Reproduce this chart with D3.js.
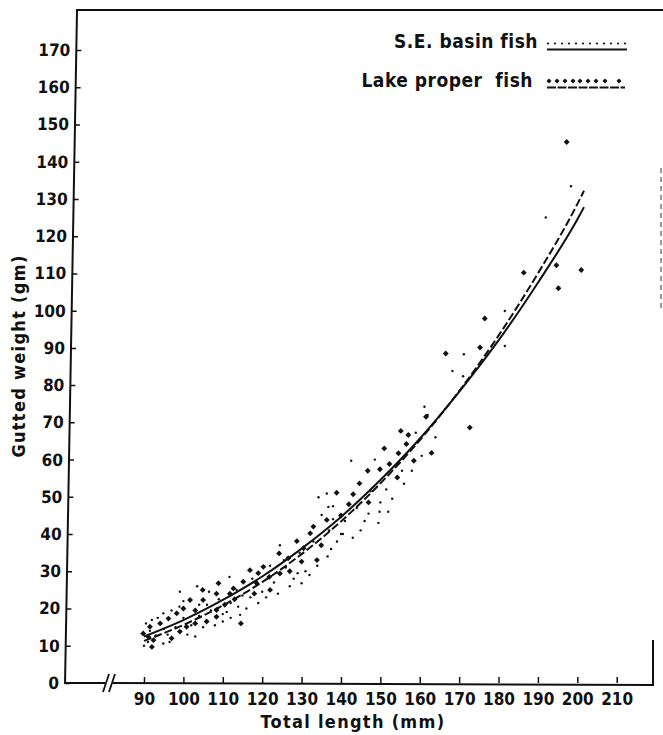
<!DOCTYPE html>
<html>
<head>
<meta charset="utf-8">
<script src="https://cdn.jsdelivr.net/npm/d3@7"></script>
<style>
  body { margin: 0; background: #fff; }
  svg { display: block; }
  text { font-family: "DejaVu Sans Condensed", "DejaVu Sans", sans-serif; font-weight: bold; fill: #111; }
</style>
</head>
<body>
<div id="grafico"></div>
<script>
// ticks
const xTicks = [90, 100, 110, 120, 130, 140, 150, 160, 170, 180, 190, 200, 210];
const yTicks = [0, 10, 20, 30, 40, 50, 60, 70, 80, 90, 100, 110, 120, 130, 140, 150, 160, 170];

// S.E. basin fish (small dots) [length mm, weight gm]
const seBasin = [
  [198.4,133.4],[192,125],[181.6,99.9],[181.6,90.5],[171.2,88.3],[168.3,83.8],[171,82.4],
  [161.2,74.2],[159,67.2],[160.5,61],[142.6,59.7],[148.6,60],[136.4,50.9],[134.3,49.9],
  [136.8,47.3],[135.1,45.1],[124.5,37],[130,26.8],[111.7,28.5],[111,19.1],[113.9,20.5],
  [114.4,18.3],[99.1,24.5],[94.9,18.7],[92,16.9],[94.9,10.6],
  [149.5,43],[149.8,46],[150,48.5],[147,45.5],[145,41],[140,40],[141,43.5],[138,44],
  [139,38],[137,41],[136.6,34],[132,29],[128,28],[126,31],[123,27],[120,24.5],[117,23],
  [115,23.5],[112,21.5],[110,18.5],[107,19.5],[106,21],[104,18],[102,15.5],[100,17.5],
  [98,15],[96,13],[95,14.5],[93,12.8],[91,11],[90,10],[91.5,14],[96.5,11],[101,13],
  [103,12.5],[105,15],[108,15.5],[110,16.5],[112,17.5],[116,20],[119,21.5],[121,23],
  [124,24],[127,26],[129,29.5],[131,30],[134,31.5],[137.5,36],[140.5,40],[143,39],
  [146,43.5],[152,46],[153,49.5],[156,53.5],[158,57],[162,72],[164,66],[144,47],
  [147.5,51.5],[151.5,52],[155.5,57],[138,47.5],[133,38],[129.5,35],[125.5,33],[122,31.5],
  [117.5,28],[113.5,25],[109,22.5],[106.5,24.5],[104,21],[99,20.5],[97,19.5],[93.5,17.5],
  [90.5,16],[100,22],[103.5,26]
];

// Lake proper fish (large dots)
const lakeProper = [
  [197.3,145.3],[194.7,112.2],[201,110.9],[186.4,110.2],[195.2,106],[176.5,97.9],[175.3,90.1],
  [166.6,88.5],[172.7,68.6],[161.6,71.5],[163,61.8],[155.2,67.7],[157.1,66.6],[156.6,64.2],
  [154.6,61.7],[151,63],[158.5,59.7],[152.3,58.8],[149.9,57.4],[146.8,57],[144.7,53.6],
  [154.3,55.2],[143.1,50.7],[138.9,51.1],[136.4,43.8],[133,42],[132.2,40.2],[128.8,38.1],
  [130.5,36.2],[133.9,33],[130,32.6],[124.3,34.8],[126.6,33.5],[120.3,31.2],[116.9,30.3],
  [121.8,28.5],[124.5,29.4],[118.6,26.8],[122,25],[115.2,27.2],[112.7,25.4],[108.9,26.8],
  [111.8,24],[108.4,24],[105,22.3],[104.9,25],[101.7,22.3],[100,20],[98.3,18.7],[96.2,17.3],
  [94.1,16],[91.5,15.1],[89.8,13.3],[91.1,12.4],[92.4,11.5],[92,9.7],[97,12],[99.1,13.8],
  [100.8,15.1],[103,16],[105.9,16.5],[108.4,17.8],[114.6,16],[108.4,19.6],
  [110.5,21],[113,22.5],[118,24],[127,30],[135,37],[140,45],[142,48],[147,48.5],[119,29.5],[103,19.5]
];

// fitted curves
const curveLen = [90, 100, 110, 120, 130, 140, 150, 160, 170, 180, 190, 200, 201.7];
const seCurve = [12.5, 16.9, 22.3, 28.6, 36.1, 44.6, 54.5, 65.6, 78.2, 92, 107.5, 124.5, 127.8];
const lakeCurve = [11.3, 15.6, 20.8, 27.1, 34.6, 43.4, 53.6, 65.2, 78.4, 93.3, 110, 128.6, 132.2];

const largura = 663;
const altura = 735;

const svg = d3.select("#grafico")
  .append("svg")
  .attr("width", largura)
  .attr("height", altura);

const x = d3.scaleLinear().domain([90, 210]).range([144, 616.7]);
const y = d3.scaleLinear().domain([0, 170]).range([683, 50]);

// frame: top line and right side bits
svg.append("line").attr("x1", 77).attr("y1", 10).attr("x2", 663).attr("y2", 10)
  .attr("stroke", "#111").attr("stroke-width", 2);
svg.append("line").attr("x1", 653).attr("y1", 685).attr("x2", 653).attr("y2", 640)
  .attr("stroke", "#111").attr("stroke-width", 2);
svg.append("line").attr("x1", 661).attr("y1", 168).attr("x2", 661).attr("y2", 310)
  .attr("stroke", "#555").attr("stroke-width", 1.2).attr("stroke-dasharray", "5,4");

// y axis (slightly slanted like the scan)
const gy = svg.append("g")
  .attr("transform", "translate(77.2,0) skewX(-1.02)");
gy.call(d3.axisLeft(y).tickValues(yTicks).tickSize(-5).tickPadding(6))
  .call(g => g.select(".domain").remove());
gy.selectAll(".tick line").attr("stroke", "#111").attr("stroke-width", 1.5);
gy.selectAll(".tick text").style("font-size", "17px").attr("fill", "#111");
gy.append("line").attr("x1", 0).attr("y1", 9).attr("x2", 0).attr("y2", 684)
  .attr("stroke", "#111").attr("stroke-width", 2);

// x axis with break
const gx = svg.append("g").attr("transform", "translate(0,683)");
gx.call(d3.axisBottom(x).tickValues(xTicks).tickSize(-6).tickPadding(10))
  .call(g => g.select(".domain").remove());
gx.selectAll(".tick line").attr("stroke", "#111").attr("stroke-width", 1.5);
gx.selectAll(".tick text").style("font-size", "17px").attr("fill", "#111");
svg.append("line").attr("x1", 64).attr("y1", 683).attr("x2", 105).attr("y2", 683)
  .attr("stroke", "#111").attr("stroke-width", 2);
svg.append("line").attr("x1", 113).attr("y1", 683).attr("x2", 654).attr("y2", 685)
  .attr("stroke", "#111").attr("stroke-width", 2);
[103, 109].forEach(bx => {
  svg.append("line").attr("x1", bx).attr("y1", 692).attr("x2", bx + 6).attr("y2", 674)
    .attr("stroke", "#111").attr("stroke-width", 1.8);
});

// axis titles
svg.append("text")
  .attr("x", 353).attr("y", 728)
  .attr("text-anchor", "middle")
  .style("font-size", "18px")
  .style("letter-spacing", "1.3px")
  .text("Total length (mm)");

svg.append("text")
  .attr("transform", "translate(25,356) rotate(-90)")
  .attr("text-anchor", "middle")
  .style("font-size", "18px")
  .style("letter-spacing", "1.3px")
  .text("Gutted weight (gm)");

// curves
const linha = d3.line()
  .x(d => x(d[0]))
  .y(d => y(d[1]))
  .curve(d3.curveMonotoneX);

svg.append("path")
  .datum(curveLen.map((l, i) => [l, seCurve[i]]))
  .attr("d", linha)
  .attr("fill", "none")
  .attr("stroke", "#111")
  .attr("stroke-width", 2);

svg.append("path")
  .datum(curveLen.map((l, i) => [l, lakeCurve[i]]))
  .attr("d", linha)
  .attr("fill", "none")
  .attr("stroke", "#111")
  .attr("stroke-width", 2)
  .attr("stroke-dasharray", "8,3");

// points
svg.selectAll(".se")
  .data(seBasin)
  .enter()
  .append("circle")
  .attr("class", "se")
  .attr("cx", d => x(d[0]))
  .attr("cy", d => y(d[1]))
  .attr("r", 1.2)
  .attr("fill", "#111");

const diamante = d3.symbol().type(d3.symbolDiamond2).size(22);
svg.selectAll(".lake")
  .data(lakeProper)
  .enter()
  .append("path")
  .attr("class", "lake")
  .attr("d", diamante)
  .attr("transform", d => `translate(${x(d[0])},${y(d[1])})`)
  .attr("fill", "#111");

// legend
svg.append("text").attr("x", 538).attr("y", 48).attr("text-anchor", "end")
  .style("font-size", "19px").style("letter-spacing", "0.5px").text("S.E. basin fish");
svg.append("text").attr("x", 533).attr("y", 87).attr("text-anchor", "end")
  .style("font-size", "19px").style("letter-spacing", "0.5px")
  .style("white-space", "pre").text("Lake proper  fish");

const dotsSe = d3.range(0, 12).map(i => 548 + i * 7);
svg.selectAll(".legse")
  .data(dotsSe)
  .enter()
  .append("circle")
  .attr("cx", d => d).attr("cy", 43.5).attr("r", 1.1).attr("fill", "#111");
svg.append("line").attr("x1", 547).attr("y1", 49.5).attr("x2", 627).attr("y2", 49.5)
  .attr("stroke", "#111").attr("stroke-width", 2);

const dotsLake = [549, 557, 565, 573, 580, 588, 596, 605, 619];
svg.selectAll(".leglake")
  .data(dotsLake)
  .enter()
  .append("path")
  .attr("d", d3.symbol().type(d3.symbolDiamond2).size(16))
  .attr("transform", d => `translate(${d},81)`)
  .attr("fill", "#111");
svg.append("line").attr("x1", 547).attr("y1", 87.5).attr("x2", 625).attr("y2", 87.5)
  .attr("stroke", "#111").attr("stroke-width", 2).attr("stroke-dasharray", "9,1.5");
</script>
</body>
</html>
